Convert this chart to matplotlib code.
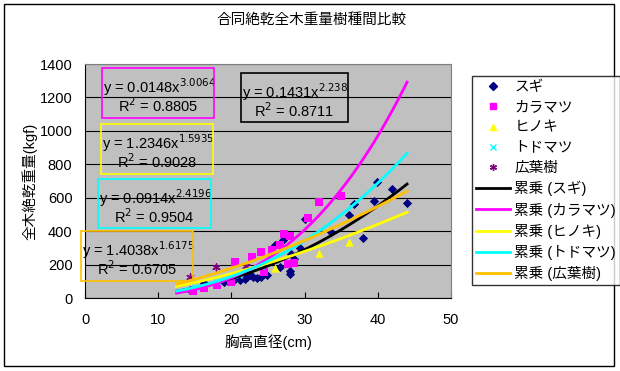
import numpy as np
import matplotlib
matplotlib.use("Agg")
import matplotlib.pyplot as plt
from matplotlib.patches import Rectangle
from matplotlib.lines import Line2D

plt.rcParams['font.family'] = ['Liberation Sans', 'Noto Sans CJK JP', 'DejaVu Sans']

# ---------------- data ----------------
sugi_x = [14.3, 16.2, 19.0, 20.3, 20.5, 21.2, 21.8, 22.1, 22.6, 23.0, 23.5, 24.1, 24.5, 24.9,
          26.0, 26.6, 27.1, 28.0, 28.0, 28.1, 28.5, 29.4, 30.0, 33.6, 36.0, 36.7, 38.0,
          39.5, 39.9, 42.0, 44.0]
sugi_y = [48, 88, 95, 108, 120, 108, 112, 128, 140, 128, 120, 128, 150, 140,
          315, 185, 345, 160, 145, 265, 235, 298, 472, 396, 495, 565, 357,
          580, 692, 651, 568]

kara_x = [14.8, 16.2, 18.0, 20.0, 20.5, 22.8, 24.1, 24.5, 25.5, 26.6, 27.2, 28.0, 27.8, 28.5,
          30.4, 32.0, 35.0]
kara_y = [44, 58, 75, 98, 217, 247, 277, 156, 289, 318, 385, 373, 205, 211,
          476, 575, 612]

hino_x = [26.0, 32.0, 36.0]
hino_y = [182, 267, 338]

todo_x = [15.0, 18.0, 21.0, 24.0]
todo_y = [65, 100, 140, 190]

kouyou_x = [14.4, 17.9, 22.0]
kouyou_y = [125, 188, 190]

series_names = ['スギ', 'カラマツ', 'ヒノキ', 'トドマツ', '広葉樹']
trend_a = [0.1431, 0.0148, 1.2346, 0.0914, 1.4038]
trend_b = [2.238, 3.0064, 1.5935, 2.4196, 1.6175]
trend_r2 = ['0.8711', '0.8805', '0.9028', '0.9504', '0.6705']
trend_a_txt = ['0.1431', '0.0148', '1.2346', '0.0914', '1.4038']
trend_b_txt = ['2.238', '3.0064', '1.5935', '2.4196', '1.6175']
trend_xmin, trend_xmax = 12.5, 44.0

x_ticks = [0, 10, 20, 30, 40, 50]
y_ticks = [0, 200, 400, 600, 800, 1000, 1200, 1400]

title = '合同絶乾全木重量樹種間比較'
xlabel = '胸高直径(cm)'
ylabel = '全木絶乾重量(kgf)'

# ---------------- style ----------------
line_colors = ['#000000', '#FF00FF', '#FFFF00', '#00FFFF', '#FFC000']
W, H = 620, 371
fig = plt.figure(figsize=(W / 100, H / 100), dpi=100)

def fx(px):
    return px / W

def fy(py):
    return 1 - py / H

# outer border
fig.patches.append(Rectangle((fx(4), fy(366)), fx(610), 362 / H, transform=fig.transFigure,
                             fill=False, edgecolor='black', linewidth=1.0))

ax = fig.add_axes([fx(85), fy(298), fx(451 - 85), (298 - 64) / H])
ax.set_facecolor('#C0C0C0')
ax.set_xlim(0, 50)
ax.set_ylim(0, 1400)
ax.set_xticks(x_ticks)
ax.set_yticks(y_ticks)
ax.tick_params(axis='both', labelsize=10.5, length=4, direction='in', width=0.8)
ax.tick_params(axis='y', length=0)
ax.tick_params(axis='x', pad=11)
ax.tick_params(axis='y', pad=9)
ax.grid(axis='y', color='black', linewidth=0.8)
ax.set_axisbelow(True)
for s in ax.spines.values():
    s.set_color('#808080')
ax.spines['bottom'].set_color('black')
ax.spines['left'].set_color('black')

# scatter
ax.scatter(sugi_x, sugi_y, marker='D', s=22, color='#000080', zorder=3, linewidths=0)
ax.scatter(kara_x, kara_y, marker='s', s=30, color='#FF00FF', zorder=3, linewidths=0)
ax.scatter(hino_x, hino_y, marker='^', s=36, color='#FFFF00', zorder=3, linewidths=0)
ax.scatter(todo_x, todo_y, marker='x', s=20, color='#00FFFF', zorder=3, linewidths=1)
ax.scatter(kouyou_x, kouyou_y, marker=(6, 2, 0), s=28, color='#800080', zorder=3, linewidths=1)

# trend lines (power fits shown in chart)
xs = np.linspace(trend_xmin, trend_xmax, 200)
for a, b, c in zip(trend_a, trend_b, line_colors):
    ax.plot(xs, a * xs ** b, color=c, linewidth=2.0, zorder=4)

# equation boxes: (left, top, right, bottom) in px, series index
boxes = [
    ((102, 68, 214, 118), 1),
    ((241, 73, 348, 122), 0),
    ((101, 124, 213, 174), 2),
    ((98, 179, 211, 228), 3),
    ((81, 231, 193, 281), 4),
]
for (l, t, r, b), i in boxes:
    edge = line_colors[i]
    fig.patches.append(Rectangle((fx(l), fy(b)), fx(r - l), (b - t) / H,
                                 transform=fig.transFigure, fill=False,
                                 edgecolor=edge, linewidth=1.2, zorder=5))
    cx = (l + r) / 2
    fig.text(fx(l + 1), fy(t + 19), f'y = {trend_a_txt[i]}x$^{{{trend_b_txt[i]}}}$',
             fontsize=10.5, ha='left', va='center')
    fig.text(fx(cx), fy(t + 38), f'R$^{{2}}$ = {trend_r2[i]}', fontsize=10.5,
             ha='center', va='center')

# titles
fig.text(fx(312), fy(20), title, fontsize=10.5, ha='center', va='center')
fig.text(fx(268), fy(342), xlabel, fontsize=10.5, ha='center', va='center')
fig.text(fx(30), fy(181), ylabel, fontsize=10.5, ha='center', va='center', rotation=90)

# legend
handles = [
    Line2D([], [], linestyle='none', marker='D', markersize=4, color='#000080'),
    Line2D([], [], linestyle='none', marker='s', markersize=5, color='#FF00FF'),
    Line2D([], [], linestyle='none', marker='^', markersize=5, color='#FFFF00'),
    Line2D([], [], linestyle='none', marker='x', markersize=4, color='#00FFFF'),
    Line2D([], [], linestyle='none', marker=(6, 2, 0), markersize=5, color='#800080'),
]
labels = list(series_names)
for c, n in zip(line_colors, series_names):
    handles.append(Line2D([], [], color=c, linewidth=2.0))
    labels.append(f'累乗 ({n})')
leg = fig.legend(handles, labels, loc='upper left',
                 bbox_to_anchor=(fx(472), fy(76)), bbox_transform=fig.transFigure,
                 fontsize=10.5, frameon=True, fancybox=False, edgecolor='black',
                 handlelength=2.3, handletextpad=0.3, labelspacing=0.42,
                 borderpad=0.3, borderaxespad=0)
leg.get_frame().set_linewidth(1.0)

fig.savefig('out.png', dpi=100)
